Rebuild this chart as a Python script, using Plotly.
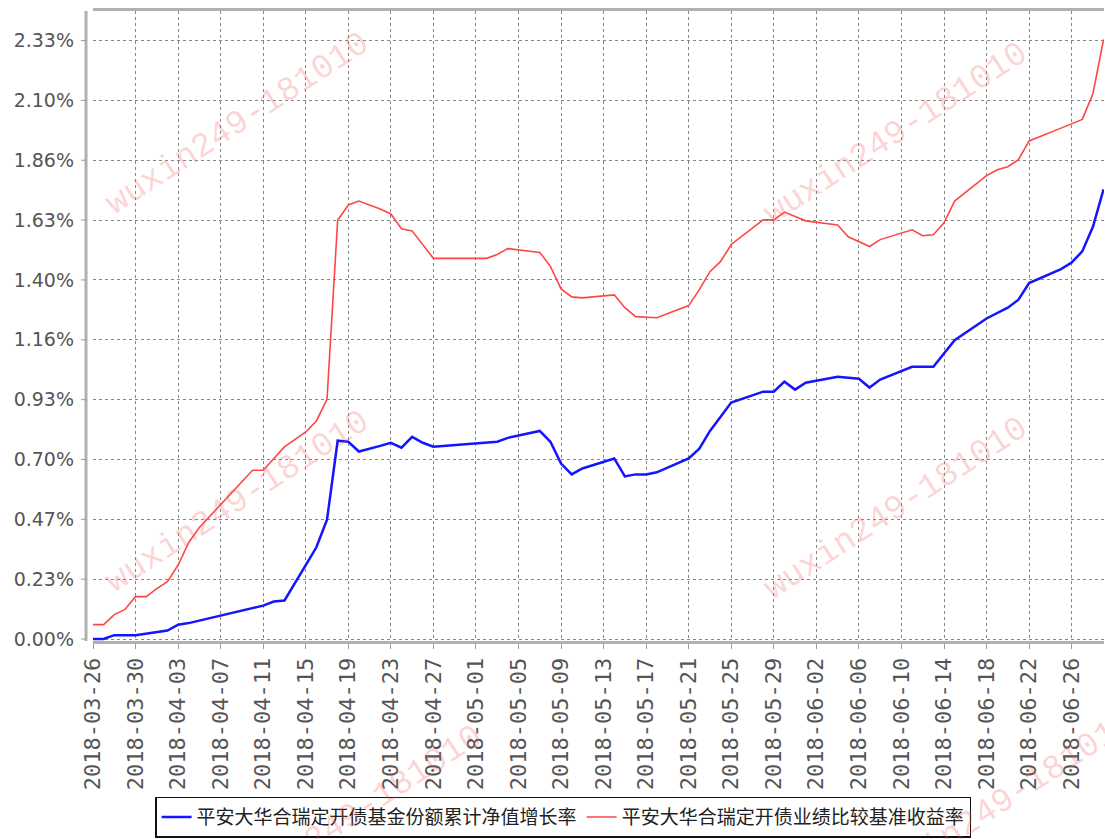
import plotly.graph_objects as go

# ---- data (values in %) ----
red_dates = ["2018-03-26","2018-03-27","2018-03-28","2018-03-29","2018-03-30","2018-03-31","2018-04-01","2018-04-02",
             "2018-04-03","2018-04-04","2018-04-05","2018-04-10","2018-04-11","2018-04-13","2018-04-15","2018-04-16",
             "2018-04-17","2018-04-18","2018-04-19","2018-04-20","2018-04-22","2018-04-23","2018-04-24","2018-04-25",
             "2018-04-27","2018-05-02","2018-05-03","2018-05-04","2018-05-07","2018-05-08","2018-05-09","2018-05-10",
             "2018-05-11","2018-05-14","2018-05-15","2018-05-16","2018-05-18","2018-05-21","2018-05-22","2018-05-23",
             "2018-05-24","2018-05-25","2018-05-28","2018-05-29","2018-05-30","2018-06-01","2018-06-04","2018-06-05",
             "2018-06-07","2018-06-08","2018-06-11","2018-06-12","2018-06-13","2018-06-14","2018-06-15","2018-06-18",
             "2018-06-19","2018-06-20","2018-06-21","2018-06-22","2018-06-25","2018-06-27","2018-06-28","2018-06-29"]
red_vals = [0.056,0.056,0.095,0.115,0.165,0.165,0.196,0.223,
            0.288,0.376,0.434,0.657,0.657,0.748,0.806,0.849,
            0.933,1.63,1.69,1.705,1.674,1.655,1.597,1.589,
            1.482,1.482,1.497,1.52,1.505,1.451,1.363,1.332,
            1.328,1.34,1.29,1.255,1.251,1.298,1.36,1.43,
            1.47,1.536,1.632,1.632,1.662,1.628,1.612,1.566,
            1.528,1.555,1.593,1.57,1.574,1.62,1.705,1.804,
            1.827,1.839,1.866,1.939,1.989,2.023,2.123,2.334]

blue_dates = ["2018-03-26","2018-03-27","2018-03-28","2018-03-30","2018-04-02","2018-04-03","2018-04-04","2018-04-10",
              "2018-04-11","2018-04-12","2018-04-13","2018-04-15","2018-04-16","2018-04-17","2018-04-18","2018-04-19",
              "2018-04-20","2018-04-22","2018-04-23","2018-04-24","2018-04-25","2018-04-26","2018-04-27","2018-05-03",
              "2018-05-04","2018-05-07","2018-05-08","2018-05-09","2018-05-10","2018-05-11","2018-05-14","2018-05-15",
              "2018-05-16","2018-05-17","2018-05-18","2018-05-21","2018-05-22","2018-05-23","2018-05-25","2018-05-28",
              "2018-05-29","2018-05-30","2018-05-31","2018-06-01","2018-06-04","2018-06-06","2018-06-07","2018-06-08",
              "2018-06-11","2018-06-13","2018-06-15","2018-06-18","2018-06-20","2018-06-21","2018-06-22","2018-06-25",
              "2018-06-26","2018-06-27","2018-06-28","2018-06-29"]
blue_vals = [0.0,0.0,0.015,0.015,0.033,0.056,0.062,0.12,
             0.13,0.146,0.15,0.288,0.357,0.465,0.772,0.768,
             0.73,0.752,0.764,0.745,0.787,0.764,0.749,0.768,
             0.783,0.81,0.768,0.683,0.641,0.664,0.703,0.633,
             0.641,0.641,0.649,0.703,0.741,0.81,0.921,0.963,
             0.963,1.002,0.971,0.998,1.021,1.013,0.979,1.01,
             1.06,1.06,1.163,1.248,1.29,1.321,1.386,1.44,
             1.466,1.509,1.605,1.751]

blue_name = "平安大华合瑞定开债基金份额累计净值增长率"
red_name = "平安大华合瑞定开债业绩比较基准收益率"

x_tick_labels = ["2018-03-26","2018-03-30","2018-04-03","2018-04-07","2018-04-11","2018-04-15","2018-04-19",
                 "2018-04-23","2018-04-27","2018-05-01","2018-05-05","2018-05-09","2018-05-13","2018-05-17",
                 "2018-05-21","2018-05-25","2018-05-29","2018-06-02","2018-06-06","2018-06-10","2018-06-14",
                 "2018-06-18","2018-06-22","2018-06-26"]
y_tick_vals = [0.0,0.233,0.466,0.699,0.932,1.165,1.398,1.631,1.864,2.097,2.33]
y_tick_labels = ["0.00%","0.23%","0.47%","0.70%","0.93%","1.16%","1.40%","1.63%","1.86%","2.10%","2.33%"]

watermark = "wuxin249-181010"

fig = go.Figure()
fig.add_trace(go.Scatter(x=blue_dates, y=blue_vals, mode="lines", name=blue_name,
                         line=dict(color="#1414ff", width=2.5)))
fig.add_trace(go.Scatter(x=red_dates, y=red_vals, mode="lines", name=red_name,
                         line=dict(color="#ff4646", width=1.6)))

grid = dict(showgrid=True, gridcolor="#858585", gridwidth=1, griddash="3px,3px")

fig.update_xaxes(type="date", range=["2018-03-26", "2018-06-29 01:00"], automargin=False,
                 tickvals=x_tick_labels, ticktext=x_tick_labels, tickangle=-90,
                 tickfont=dict(family="DejaVu Sans Mono", size=22, color="#555555"),
                 ticks="outside", ticklen=5, tickcolor="#999999",
                 showline=True, linecolor="#b0b0b0", linewidth=3, mirror=True,
                 zeroline=False, **grid)
fig.update_yaxes(range=[-0.0077, 2.445], tickvals=y_tick_vals, ticktext=y_tick_labels, automargin=False,
                 tickfont=dict(family="DejaVu Sans", size=19, color="#555555"),
                 ticks="", ticklabelstandoff=18, showline=False, zeroline=False, **grid)

shapes = [dict(type="line", xref="paper", yref="paper", x0=-0.0069, x1=-0.0069, y0=0, y1=1,
               line=dict(color="#b0b0b0", width=3))]
for v in y_tick_vals:
    shapes.append(dict(type="line", xref="paper", yref="y", x0=-0.0119, x1=-0.0069, y0=v, y1=v,
                       line=dict(color="#999999", width=1)))
fig.update_layout(shapes=shapes)

wm_pos = [(0.143, 0.82), (0.794, 0.805), (0.143, 0.22), (0.794, 0.21), (0.255, -0.28), (0.9, -0.255)]
for (px, py) in wm_pos:
    fig.add_annotation(text=watermark, xref="paper", yref="paper", x=px, y=py, showarrow=False,
                       xanchor="center", yanchor="middle",
                       textangle=-33, font=dict(family="Liberation Mono", size=34, color="rgba(240,90,90,0.26)"))

fig.update_layout(
    width=1105, height=839,
    margin=dict(l=93, r=1, t=11, b=189),
    paper_bgcolor="white", plot_bgcolor="white",
    showlegend=True,
    legend=dict(orientation="h", x=0.465, xanchor="center", y=-0.247, yanchor="top",
                bordercolor="#111111", borderwidth=1.5, bgcolor="white",
                font=dict(family="Noto Sans CJK SC", size=19, color="#222222"),
                itemwidth=30, tracegroupgap=0),
)

fig.write_html("out.html", config={"displayModeBar": False},
               post_script="document.body.style.margin='0';document.body.style.padding='0';")
